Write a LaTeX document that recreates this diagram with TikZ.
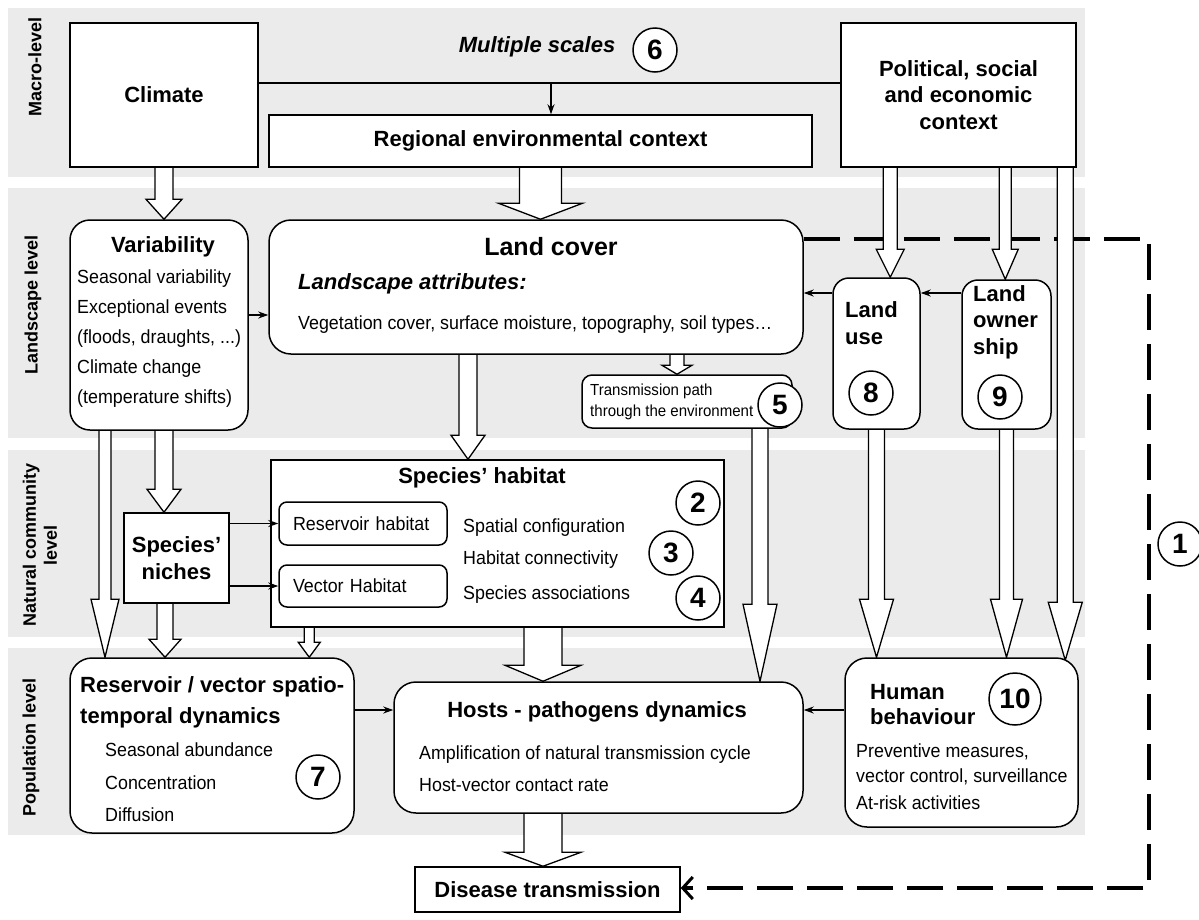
\documentclass[tikz,border=0pt]{standalone}
\usepackage{fontspec}
\setmainfont{Liberation Sans}
\newfontfamily\narrowfont[FakeStretch=0.94]{Liberation Sans}
\usetikzlibrary{arrows.meta,calc}

\pgfdeclarelayer{bg}
\pgfdeclarelayer{mid}
\pgfsetlayers{bg,mid,main}

\tikzset{
  band/.style={fill=black!8},
  box/.style={draw, line width=1.5pt, fill=white, inner sep=0pt},
  rbox/.style={box, rounded corners=20pt},
  title/.style={font=\fontsize{22}{26.5}\selectfont\bfseries, inner sep=0pt},
  bodyfont/.style={font=\narrowfont\fontsize{19}{22}\selectfont},
  body/.style={bodyfont, anchor=west, inner sep=0pt},
  num/.style={circle, draw, line width=1.5pt, fill=white, inner sep=0pt, minimum size=44pt, font=\fontsize{28}{28}\selectfont\bfseries},
  flow/.style={line width=1.3pt, -{Stealth[length=10pt,width=7pt]}},
  lvl/.style={rotate=90, font=\fontsize{18}{21}\selectfont\bfseries, align=center, inner sep=0pt},
  hollow/.style={draw, line width=1.3pt, fill=white, line join=miter},
}

% start, end, half shaft, half head, head length
\newcommand{\hollowarrow}[5]{%
  \path[hollow] let \p1=#1, \p2=#2 in
    (\x1-#3pt,\y1+3pt) -- (\x1-#3pt,\y2+#5pt) -- (\x1-#4pt,\y2+#5pt) -- (\x1,\y2)
    -- (\x1+#4pt,\y2+#5pt) -- (\x1+#3pt,\y2+#5pt) -- (\x1+#3pt,\y1+3pt);}

\begin{document}
\begin{tikzpicture}[x=1pt,y=-1pt]
\useasboundingbox (0,0) rectangle (1199,919);

\begin{pgfonlayer}{bg}
\fill[white] (0,0) rectangle (1199,919);
\fill[band] (8,8) rectangle (1085,177);
\fill[band] (8,188) rectangle (1085,438);
\fill[band] (8,450) rectangle (1085,637);
\fill[band] (8,648) rectangle (1085,835);
\end{pgfonlayer}

\node[lvl] (lmac) at (35,67) {Macro-level};
\node[lvl] (lland) at (33,305) {Landscape level};
\node[lvl] (lnat) at (40,545) {Natural community\\level};
\node[lvl] (lpop) at (31,747) {Population level};

% macro level
\node[box, title, minimum width=188pt, minimum height=144pt] (clim) at (164,95) {Climate};
\node[title] (ms) at (537,47) {\itshape Multiple scales};
\node[num] (n6) at (655,50) {6};
\node[box, title, minimum width=543pt, minimum height=52pt] (reg) at (540.5,141) {Regional environmental context};
\node[box, title, align=center, minimum width=235pt, minimum height=144pt] (pol) at (958.5,95) {Political, social\\and economic\\context};

% landscape level
\node[rbox, minimum width=178pt, minimum height=210pt] (var) at (159,325) {};
\node[title] (vart) at (163,247) {Variability};
\node[body] (v1) at (77,279) {Seasonal variability};
\node[body] (v2) at (77,309) {Exceptional events};
\node[body] (v3) at (77,339) {(floods, draughts, ...)};
\node[body] (v4) at (77,369) {Climate change};
\node[body] (v5) at (77,399) {(temperature shifts)};

\node[rbox, rounded corners=22pt, minimum width=534pt, minimum height=134pt] (lc) at (536,287) {};
\node[font=\fontsize{25}{28}\selectfont\bfseries, inner sep=0pt] (lct) at (551,247) {Land cover};
\node[title, anchor=west] (lca) at (298,284) {\itshape Landscape attributes:};
\node[body] (lcv) at (298,325) {Vegetation cover, surface moisture, topography, soil types…};

\node[rbox, rounded corners=16pt, minimum width=87pt, minimum height=151pt] (lu) at (876.5,353.5) {};
\node[title, anchor=west, align=left] (lut) at (845,323) {Land\\use};
\node[num] (n8) at (871,393) {8};
\node[rbox, rounded corners=16pt, minimum width=89pt, minimum height=149pt] (lo) at (1006.5,354.5) {};
\node[title, anchor=west, align=left] (lot) at (973,322) {Land\\owner\\ship};
\node[num] (n9) at (1000,397) {9};

\node[rbox, rounded corners=10pt, minimum width=210pt, minimum height=53pt] (tp) at (687,401.5) {};
\node[body, font=\narrowfont\fontsize{16}{21}\selectfont, align=left] (tpt) at (590,401.5) {Transmission path\\through the environment};
\node[num] (n5) at (780,405) {5};

% natural community level
\node[box, title, align=center, minimum width=105pt, minimum height=90pt] (sn) at (176.5,558) {Species’\\niches};
\node[box, minimum width=453pt, minimum height=167pt] (sh) at (497.5,543.5) {};
\node[title] (sht) at (482,478) {Species’ habitat};
\node[rbox, rounded corners=8pt, bodyfont, text width=140pt, align=left, minimum width=168pt, minimum height=43pt] (rh) at (363,523.5) {Reservoir habitat};
\node[rbox, rounded corners=8pt, bodyfont, text width=140pt, align=left, minimum width=168pt, minimum height=42pt] (vh) at (363,586) {Vector Habitat};
\node[body] (s1) at (463,528) {Spatial configuration};
\node[body] (s2) at (463,560) {Habitat connectivity};
\node[body] (s3) at (463,595) {Species associations};
\node[num] (n2) at (698,503) {2};
\node[num] (n3) at (671,553) {3};
\node[num] (n4) at (698,598) {4};

% population level
\node[rbox, rounded corners=22pt, minimum width=284pt, minimum height=175pt] (res) at (212,745.5) {};
\node[title, font=\fontsize{22}{31}\selectfont\bfseries, anchor=west, align=left] (rest) at (80,702.5) {Reservoir / vector spatio-\\temporal dynamics};
\node[body] (r1) at (105,750) {Seasonal abundance};
\node[body] (r2) at (105,783) {Concentration};
\node[body] (r3) at (105,815) {Diffusion};
\node[num] (n7) at (318,777) {7};

\node[rbox, rounded corners=22pt, minimum width=409pt, minimum height=131pt] (hd) at (598.5,747.5) {};
\node[title] (hdt) at (597,712) {Hosts - pathogens dynamics};
\node[body] (h1) at (419,755) {Amplification of natural transmission cycle};
\node[body] (h2) at (419,785) {Host-vector contact rate};

\node[rbox, rounded corners=22pt, minimum width=233pt, minimum height=169pt] (hb) at (961.5,742.5) {};
\node[title, font=\fontsize{22}{25}\selectfont\bfseries, anchor=west, align=left] (hbt) at (870,704.5) {Human\\behaviour};
\node[num, minimum size=52pt] (n10) at (1015,699) {10};
\node[body] (b1) at (856,752) {Preventive measures,};
\node[body] (b2) at (856,777) {vector control, surveillance};
\node[body] (b3) at (856,803) {At-risk activities};

\node[box, title, minimum width=265pt, minimum height=45pt] (dt) at (547.5,889.5) {Disease transmission};
\node[num] (n1) at (1180,544) {1};

% thin connectors
\coordinate (split) at (551,83);
\draw[line width=1.3pt] (clim.east |- split) -- (pol.west |- split);
\draw[flow] (split) -- (split |- reg.north);
\draw[flow] ([yshift=10pt]var.east) -- ([yshift=10pt]var.east -| lc.west);
\draw[flow] (lo.west |- 0,293) -- (lu.east |- 0,293);
\draw[flow] (lu.west |- 0,293) -- (lc.east |- 0,293);
\draw[flow] (sn.east |- rh.west) -- (rh.west);
\draw[flow] (sn.east |- vh.west) -- (vh.west);
\draw[flow] (res.east |- 0,710) -- (hd.west |- 0,710);
\draw[flow] (hb.west |- 0,710) -- (hd.east |- 0,710);

\begin{pgfonlayer}{mid}
\coordinate (fb) at (1149,888);
\draw[line width=3.5pt, dash pattern=on 36pt off 14pt, -{Straight Barb[length=10pt,width=22pt,line width=3pt]}] (lc.east |- 0,239) -| (fb) -- (dt.east |- fb);

\hollowarrow{(clim.south)}{(var.north)}{9}{18}{20}
\hollowarrow{(reg.south)}{(lc.north)}{21}{42}{16}
\hollowarrow{([xshift=-68pt]lc.south)}{(sh.north)}{9}{17}{24}
\hollowarrow{([xshift=141pt]lc.south)}{(tp.north)}{7}{15}{9}
\hollowarrow{([xshift=73pt]tp.south)}{(hd.north)}{8}{17}{77}
\hollowarrow{([xshift=-54pt]var.south)}{(res.north)}{6}{14}{58}
\hollowarrow{([xshift=5pt]var.south)}{(sn.north)}{9}{17}{23}
\hollowarrow{([xshift=-11.5pt]sn.south)}{(res.north)}{8}{16}{18}
\hollowarrow{([xshift=39pt]sh.south west)}{(res.north)}{5}{11}{15}
\hollowarrow{([xshift=45.5pt]sh.south)}{(hd.north)}{19}{38}{16}
\hollowarrow{([xshift=-4.5pt]dt.north |- hd.south)}{([xshift=-4.5pt]dt.north)}{19}{38}{14}
\hollowarrow{([xshift=50pt]pol.south west)}{(lu.north)}{7}{14}{28}
\hollowarrow{([xshift=165pt]pol.south west)}{(lo.north)}{6}{13}{30}
\hollowarrow{([xshift=225pt]pol.south west)}{([yshift=-3pt]hb.north)}{8}{17}{58}
\hollowarrow{(lu.south)}{(hb.north)}{8}{17}{58}
\hollowarrow{(lo.south)}{(hb.north)}{7}{16}{58}
\end{pgfonlayer}
\end{tikzpicture}
\end{document}
